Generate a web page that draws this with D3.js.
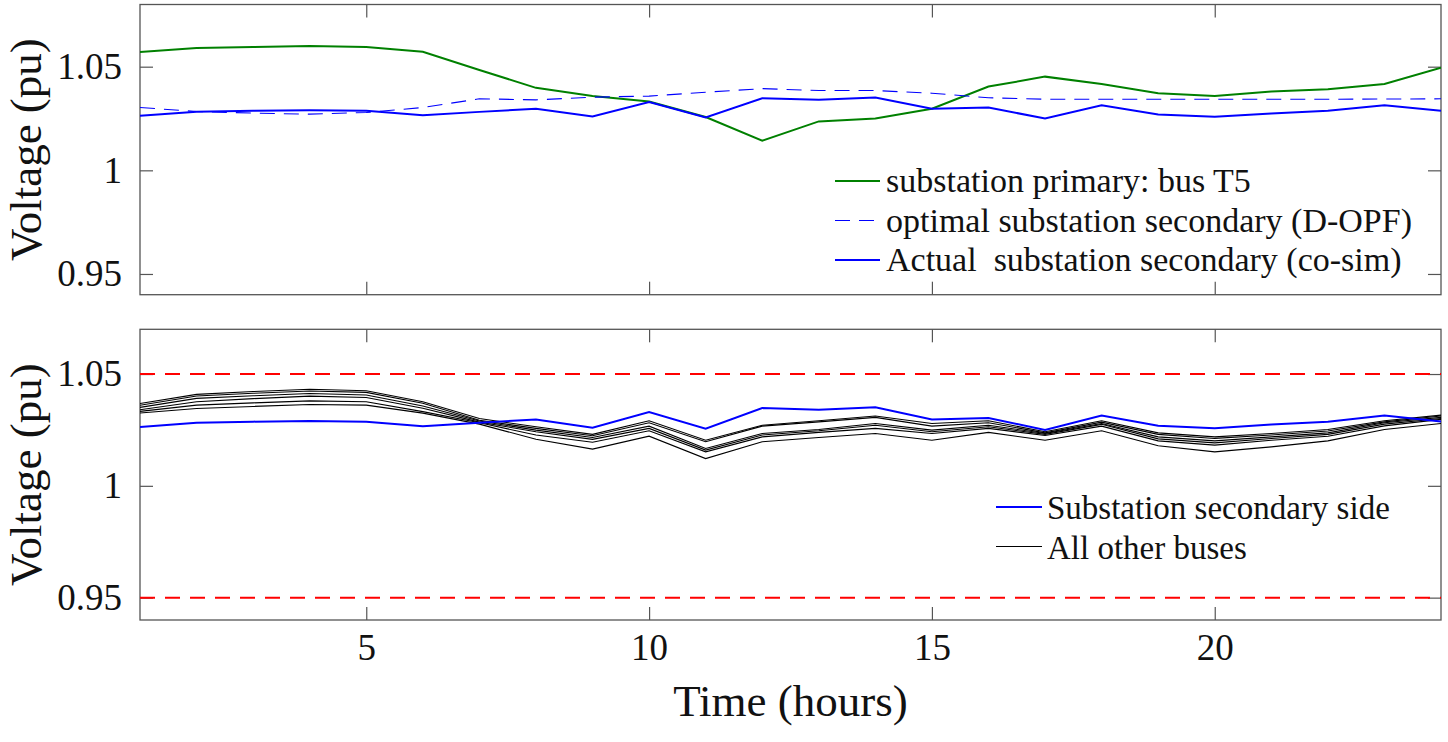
<!DOCTYPE html>
<html>
<head>
<meta charset="utf-8">
<script src="https://cdn.jsdelivr.net/npm/d3@7"></script>
<style>
  body { margin: 0; background: #fff; }
  svg { display: block; }
  text { font-family: "Liberation Serif", "Times New Roman", serif; fill: #111; }
</style>
</head>
<body>
<script>
// hours 1..24
var hours = d3.range(1, 25);
var xTicks = [5, 10, 15, 20];
var yTicks = [0.95, 1, 1.05];

// top panel series
var primaryT5 = [1.0571, 1.0590, 1.0595, 1.0600, 1.0595, 1.0572, 1.0484, 1.0398, 1.0359, 1.0332, 1.0257, 1.0143,
                 1.0236, 1.0250, 1.0297, 1.0404, 1.0452, 1.0417, 1.0372, 1.0359, 1.0380, 1.0391, 1.0417, 1.0495];
var optimalSec = [1.0303, 1.0284, 1.0276, 1.0271, 1.0279, 1.0303, 1.0345, 1.0340, 1.0353, 1.0358, 1.0377, 1.0394,
                  1.0385, 1.0385, 1.0372, 1.0350, 1.0343, 1.0343, 1.0343, 1.0343, 1.0343, 1.0343, 1.0344, 1.0345];
var actualSec = [1.0263, 1.0282, 1.0287, 1.0290, 1.0287, 1.0266, 1.0282, 1.0297, 1.0260, 1.0330, 1.0255, 1.0348,
                 1.0340, 1.0351, 1.0297, 1.0303, 1.0250, 1.0314, 1.0269, 1.0258, 1.0274, 1.0287, 1.0314, 1.0288];

// bottom panel: other buses
var bus1 = [1.0368, 1.0409, 1.0422, 1.0432, 1.0425, 1.0376, 1.0301, 1.0264, 1.0230, 1.0291, 1.0204, 1.0271,
            1.0291, 1.0312, 1.0279, 1.0291, 1.0242, 1.0291, 1.0237, 1.0219, 1.0234, 1.0252, 1.0291, 1.0316];
var bus2 = [1.0360, 1.0402, 1.0414, 1.0424, 1.0418, 1.0369, 1.0293, 1.0257, 1.0224, 1.0282, 1.0197, 1.0267,
            1.0286, 1.0306, 1.0267, 1.0282, 1.0237, 1.0285, 1.0230, 1.0212, 1.0227, 1.0245, 1.0286, 1.0312];
var bus3 = [1.0351, 1.0391, 1.0403, 1.0413, 1.0406, 1.0357, 1.0290, 1.0249, 1.0216, 1.0267, 1.0167, 1.0234,
            1.0252, 1.0279, 1.0249, 1.0271, 1.0234, 1.0279, 1.0219, 1.0201, 1.0219, 1.0237, 1.0282, 1.0306];
var bus4 = [1.0340, 1.0376, 1.0390, 1.0401, 1.0395, 1.0347, 1.0285, 1.0242, 1.0208, 1.0257, 1.0160, 1.0227,
            1.0246, 1.0271, 1.0242, 1.0264, 1.0230, 1.0275, 1.0210, 1.0192, 1.0212, 1.0230, 1.0276, 1.0301];
var bus5 = [1.0333, 1.0361, 1.0371, 1.0380, 1.0376, 1.0332, 1.0282, 1.0227, 1.0195, 1.0246, 1.0152, 1.0219,
            1.0239, 1.0257, 1.0234, 1.0257, 1.0225, 1.0267, 1.0201, 1.0182, 1.0204, 1.0222, 1.0268, 1.0297];
var bus6 = [1.0326, 1.0346, 1.0355, 1.0364, 1.0361, 1.0325, 1.0276, 1.0208, 1.0164, 1.0222, 1.0122, 1.0197,
            1.0216, 1.0234, 1.0204, 1.0239, 1.0204, 1.0246, 1.0179, 1.0152, 1.0174, 1.0201, 1.0252, 1.0279];
var otherBuses = [bus6, bus5, bus4, bus3, bus2, bus1];
var limits = [0.95, 1.05];

var W = 1448, H = 742;
var left = 140, right = 1441;
var tickLen = 13;

var svg = d3.select("body").append("svg")
    .attr("width", W)
    .attr("height", H);

var x = d3.scaleLinear().domain([1, 24]).range([left, right]);

function panel(top, bottom, yDomain, showX) {
  var y = d3.scaleLinear().domain(yDomain).range([bottom, top]);
  var g = svg.append("g");

  // axes with inward ticks on all four sides
  var ax = g.append("g").attr("class", "axes");
  ax.append("g")
    .attr("transform", "translate(" + left + ",0)")
    .call(d3.axisLeft(y).tickValues(yTicks).tickSize(-tickLen).tickPadding(18)
      .tickFormat(function(d) { return d === 1 ? "1" : d3.format(".2f")(d); }));
  ax.append("g")
    .attr("transform", "translate(" + right + ",0)")
    .call(d3.axisRight(y).tickValues(yTicks).tickSize(-tickLen).tickFormat(""));
  ax.append("g")
    .attr("transform", "translate(0," + top + ")")
    .call(d3.axisTop(x).tickValues(xTicks).tickSize(-tickLen).tickFormat(""));
  ax.append("g")
    .attr("transform", "translate(0," + bottom + ")")
    .call(d3.axisBottom(x).tickValues(xTicks).tickSize(-tickLen).tickPadding(14)
      .tickFormat(showX ? d3.format("d") : ""));

  ax.selectAll(".domain").remove();
  ax.selectAll(".tick line").attr("stroke", "#555").attr("stroke-width", 1.2);
  ax.selectAll(".tick text")
    .attr("font-family", null)
    .style("font-family", "'Liberation Serif', serif")
    .style("font-size", "37px")
    .attr("fill", "#111");

  g.append("rect")
    .attr("x", left).attr("y", top)
    .attr("width", right - left).attr("height", bottom - top)
    .attr("fill", "none").attr("stroke", "#555").attr("stroke-width", 1.3);

  g.append("text")
    .attr("transform", "translate(41," + ((top + bottom) / 2) + ") rotate(-90)")
    .attr("text-anchor", "middle")
    .style("font-size", "45px")
    .text("Voltage (pu)");

  var clip = "clip" + top;
  svg.append("clipPath").attr("id", clip)
    .append("rect").attr("x", left).attr("y", top)
    .attr("width", right - left).attr("height", bottom - top);
  var plot = g.append("g").attr("clip-path", "url(#" + clip + ")");

  return { y: y, plot: plot, g: g };
}

function lineFor(y) {
  return d3.line()
    .x(function(d, i) { return x(hours[i]); })
    .y(function(d) { return y(d); });
}

// ---- top panel
var p1 = panel(4.5, 294.7, [0.94, 1.08], false);
var line1 = lineFor(p1.y);
p1.plot.append("path").datum(primaryT5)
  .attr("d", line1).attr("fill", "none").attr("stroke", "#008000").attr("stroke-width", 2);
p1.plot.append("path").datum(optimalSec)
  .attr("d", line1).attr("fill", "none").attr("stroke", "#0000ff").attr("stroke-width", 1.1)
  .attr("stroke-dasharray", "15,9");
p1.plot.append("path").datum(actualSec)
  .attr("d", line1).attr("fill", "none").attr("stroke", "#0000ff").attr("stroke-width", 2);

// top legend
var leg1 = [
  { label: "substation primary: bus T5", color: "#008000", w: 2, dash: null },
  { label: "optimal substation secondary (D-OPF)", color: "#0000ff", w: 1.1, dash: "15,9" },
  { label: "Actual  substation secondary (co-sim)", color: "#0000ff", w: 2, dash: null }
];
var l1 = svg.append("g").attr("transform", "translate(835,181)");
leg1.forEach(function(d, i) {
  l1.append("line").attr("x1", 0).attr("x2", 45).attr("y1", i * 39.5).attr("y2", i * 39.5)
    .attr("stroke", d.color).attr("stroke-width", d.w).attr("stroke-dasharray", d.dash);
  l1.append("text").attr("x", 51).attr("y", i * 39.5 + 11)
    .style("font-size", "34px").style("white-space", "pre")
    .text(d.label);
});

// ---- bottom panel
var p2 = panel(329.3, 620, [0.94, 1.07], true);
var line2 = lineFor(p2.y);
p2.plot.selectAll("line.limit").data(limits).enter().append("line")
  .attr("class", "limit")
  .attr("x1", left).attr("x2", right)
  .attr("y1", function(d) { return p2.y(d); })
  .attr("y2", function(d) { return p2.y(d); })
  .attr("stroke", "#ff0000").attr("stroke-width", 2).attr("stroke-dasharray", "15,10");
p2.plot.selectAll("path.bus").data(otherBuses).enter().append("path")
  .attr("class", "bus")
  .attr("d", line2).attr("fill", "none").attr("stroke", "#000").attr("stroke-width", 1.1);
p2.plot.append("path").datum(actualSec)
  .attr("d", line2).attr("fill", "none").attr("stroke", "#0000ff").attr("stroke-width", 2);

var leg2 = [
  { label: "Substation secondary side", color: "#0000ff", w: 2 },
  { label: "All other buses", color: "#000", w: 1.1 }
];
var l2 = svg.append("g").attr("transform", "translate(996,507)");
leg2.forEach(function(d, i) {
  l2.append("line").attr("x1", 0).attr("x2", 46).attr("y1", i * 39.5).attr("y2", i * 39.5)
    .attr("stroke", d.color).attr("stroke-width", d.w);
  l2.append("text").attr("x", 51).attr("y", i * 39.5 + 12)
    .style("font-size", "33px")
    .text(d.label);
});

// x axis title
svg.append("text")
  .attr("x", (left + right) / 2).attr("y", 716)
  .attr("text-anchor", "middle")
  .style("font-size", "45px")
  .text("Time (hours)");
</script>
</body>
</html>
